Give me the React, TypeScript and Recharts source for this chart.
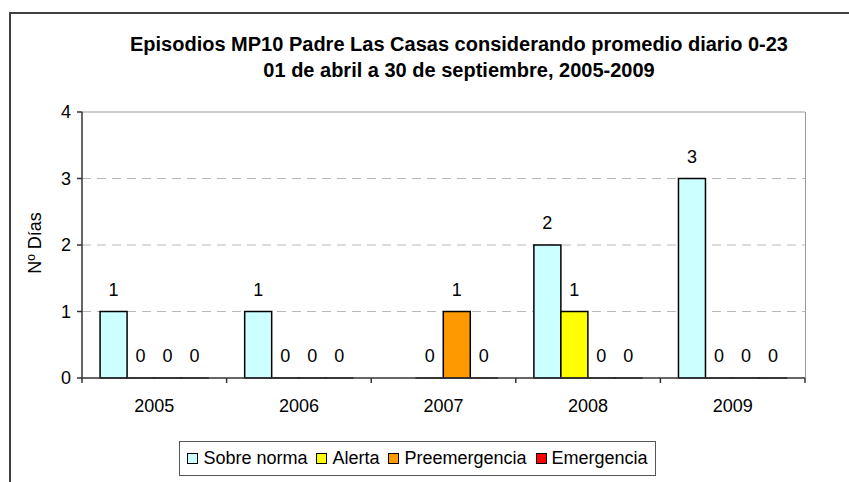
import { BarChart, Bar, XAxis, YAxis, CartesianGrid, LabelList, ReferenceLine } from 'recharts';

const years = ['2005', '2006', '2007', '2008', '2009'];
const sobreNorma = [1, 1, null, 2, 3];
const alerta = [0, 0, 0, 1, 0];
const preemergencia = [0, 0, 1, 0, 0];
const emergencia = [0, 0, 0, 0, 0];
const yTicks = [0, 1, 2, 3, 4];

const seriesInfo = [
  { key: 'sobre', name: 'Sobre norma', color: '#CCFFFF' },
  { key: 'alerta', name: 'Alerta', color: '#FFFF00' },
  { key: 'pre', name: 'Preemergencia', color: '#FF9900' },
  { key: 'emer', name: 'Emergencia', color: '#FF0000' },
];

const data = years.map((y, i) => ({
  year: y,
  sobre: sobreNorma[i],
  alerta: alerta[i],
  pre: preemergencia[i],
  emer: emergencia[i],
}));

const FONT = '"Liberation Sans", Arial, sans-serif';
const W = 849;
const H = 482;
const PLOT_LEFT = 82;
const PLOT_RIGHT = 805;
const PLOT_TOP = 112;
const PLOT_BOTTOM = 378;
const band = (PLOT_RIGHT - PLOT_LEFT) / years.length;

// Excel-style x tick: marks sit between categories, label at center
function YearTick(props: any) {
  const { x, payload, index } = props;
  const left = x - band / 2;
  return (
    <g>
      <line x1={left} x2={left} y1={PLOT_BOTTOM} y2={PLOT_BOTTOM + 5} stroke="#333" strokeWidth={1.5} />
      {index === years.length - 1 && (
        <line x1={x + band / 2} x2={x + band / 2} y1={PLOT_BOTTOM} y2={PLOT_BOTTOM + 5} stroke="#333" strokeWidth={1.5} />
      )}
      <text x={x} y={PLOT_BOTTOM + 34} textAnchor="middle" fontSize={18} fontFamily={FONT} fill="#000">
        {payload.value}
      </text>
    </g>
  );
}

// zero values still need a (flat) bar so that their "0" label shows
const zeroMin = (v: any) => (v === 0 ? 0.01 : 0);

export default function App() {
  return (
    <div style={{ position: 'absolute', left: 0, top: 0, width: W, height: H, background: '#fff', fontFamily: FONT }}>
      <div style={{ position: 'absolute', left: 9, top: 12, width: W - 9, height: H - 12, borderTop: '2px solid #404040', borderLeft: '2px solid #404040' }} />
      <div style={{ position: 'absolute', left: 0, top: 31, width: 918, textAlign: 'center', fontWeight: 'bold', fontSize: 20, lineHeight: '26px', color: '#000' }}>
        Episodios MP10 Padre Las Casas considerando promedio diario 0-23
        <br />
        01 de abril a 30 de septiembre, 2005-2009
      </div>
      <div style={{ position: 'absolute', left: 35, top: 243, transform: 'translate(-50%, -50%) rotate(-90deg)', fontSize: 18, whiteSpace: 'nowrap' }}>
        Nº Días
      </div>
      <BarChart
        width={W}
        height={H}
        data={data}
        margin={{ top: PLOT_TOP, right: W - PLOT_RIGHT, left: PLOT_LEFT - 40, bottom: H - PLOT_BOTTOM - 40 }}
        barCategoryGap="12.5%"
        barGap={0}
        style={{ position: 'absolute', left: 0, top: 0 }}
      >
        <CartesianGrid vertical={false} stroke="#b8b8b8" strokeDasharray="9 6" horizontalValues={[1, 2, 3]} />
        <ReferenceLine y={4} stroke="#999" strokeWidth={1} />
        <XAxis dataKey="year" height={40} axisLine={{ stroke: '#333', strokeWidth: 1.5 }} tickLine={false} tick={<YearTick />} interval={0} />
        <YAxis
          width={40}
          domain={[0, 4]}
          ticks={yTicks}
          interval={0}
          tickSize={5}
          tickMargin={6}
          axisLine={{ stroke: '#333', strokeWidth: 1.5 }}
          tickLine={{ stroke: '#333', strokeWidth: 1.5 }}
          tick={{ fill: '#000', fontSize: 18, fontFamily: FONT }}
        />
        {seriesInfo.map((s) => (
          <Bar
            key={s.key}
            dataKey={s.key}
            name={s.name}
            fill={s.color}
            stroke="#000"
            strokeWidth={1.5}
            minPointSize={zeroMin}
            isAnimationActive={false}
          >
            <LabelList dataKey={s.key} position="top" offset={16} fill="#000" fontSize={18} fontFamily={FONT} />
          </Bar>
        ))}
      </BarChart>
      <div style={{ position: 'absolute', left: PLOT_RIGHT, top: PLOT_TOP, width: 1, height: PLOT_BOTTOM - PLOT_TOP, background: '#999' }} />
      <div
        style={{
          position: 'absolute',
          left: 179,
          top: 441,
          width: 477,
          height: 35,
          border: '1px solid #555',
          display: 'flex',
          alignItems: 'center',
          justifyContent: 'center',
          gap: 9,
          fontSize: 18,
          boxSizing: 'border-box',
          whiteSpace: 'nowrap',
        }}
      >
        {seriesInfo.map((s) => (
          <span key={s.key} style={{ display: 'flex', alignItems: 'center', gap: 5 }}>
            <span style={{ display: 'inline-block', width: 9, height: 9, background: s.color, border: '1px solid #000' }} />
            {s.name}
          </span>
        ))}
      </div>
    </div>
  );
}
